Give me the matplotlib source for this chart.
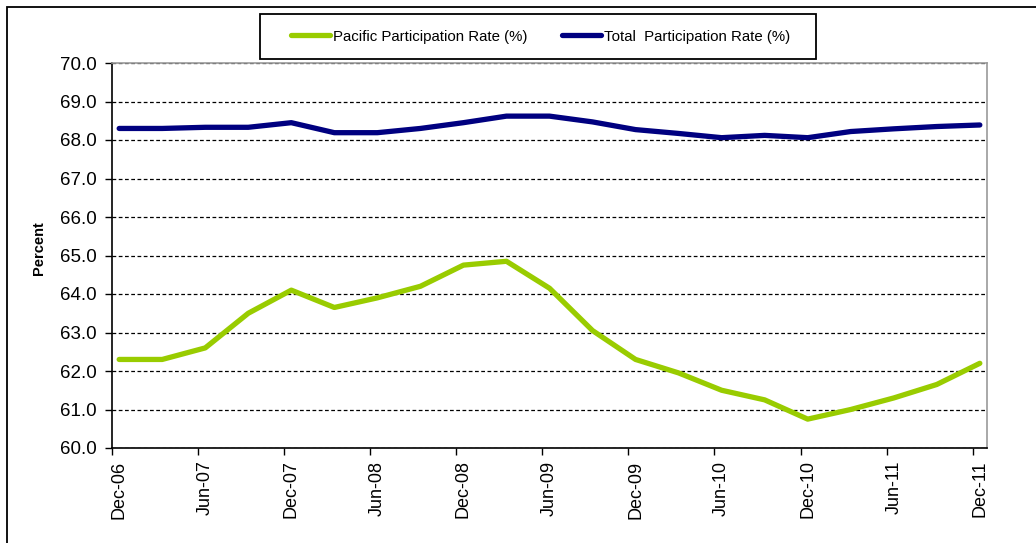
import matplotlib
matplotlib.use("Agg")
from matplotlib import pyplot as plt
from matplotlib.patches import Rectangle
import numpy as np

plt.rcParams['font.family'] = ['Liberation Sans', 'DejaVu Sans']

# quarterly values, Dec-06 .. Dec-11
pacific = [62.3, 62.3, 62.6, 63.5, 64.1, 63.65, 63.9, 64.2, 64.75, 64.85, 64.15,
           63.05, 62.3, 61.95, 61.5, 61.25, 60.75, 61.0, 61.3, 61.65, 62.2]
total = [68.3, 68.3, 68.33, 68.33, 68.45, 68.19, 68.19, 68.3, 68.45, 68.62, 68.62,
         68.47, 68.27, 68.17, 68.06, 68.12, 68.06, 68.22, 68.29, 68.35, 68.39]
tick_labels = ['Dec-06', 'Jun-07', 'Dec-07', 'Jun-08', 'Dec-08', 'Jun-09',
               'Dec-09', 'Jun-10', 'Dec-10', 'Jun-11', 'Dec-11']

months = np.arange(0, 3 * len(pacific), 3)   # month index of each quarter
tick_pos = np.arange(0, 6 * len(tick_labels), 6)

fig = plt.figure(figsize=(10.36, 5.43), dpi=100)
ax = fig.add_axes([112 / 1036, 1 - 448 / 543, 875 / 1036, 385 / 543])

l1, = ax.plot(months, pacific, color='#99CC00', lw=3.8, solid_capstyle='round',
              label='Pacific Participation Rate (%)')
l2, = ax.plot(months, total, color='#000080', lw=3.8, solid_capstyle='round',
              label='Total  Participation Rate (%)')

ax.set_xlim(-0.5, 60.5)
ax.set_ylim(60, 70)
ax.set_yticks(np.arange(60, 70.5, 1))
ax.set_yticklabels(['%.1f' % v for v in np.arange(60, 70.5, 1)], fontsize=13.5)
ax.set_xticks(tick_pos)
ax.set_xticklabels(tick_labels, rotation=90, fontsize=13)
ax.set_xticks(np.arange(-0.5, 61, 6), minor=True)
ax.tick_params(axis='x', which='major', length=0, pad=9)
ax.tick_params(axis='x', which='minor', length=5, width=1, direction='out')
ax.tick_params(axis='y', length=5, width=1, direction='out', pad=6)

ax.yaxis.grid(True, color='black', linestyle=(0, (3, 2)), lw=0.9)
ax.set_axisbelow(True)
for s in ['left', 'bottom']:
    ax.spines[s].set_color('black')
    ax.spines[s].set_linewidth(1.2)
for s in ['top', 'right']:
    ax.spines[s].set_color('#999999')
    ax.spines[s].set_linewidth(1.2)

ax.set_ylabel('Percent', fontsize=10.5, fontweight='bold')
ax.yaxis.set_label_coords(-0.075, 0.52)

# legend with its own box
fig.legend(handles=[l1, l2], loc='center', bbox_to_anchor=(541 / 1036, 1 - 36.5 / 543),
           frameon=False, ncol=2, fontsize=10.8, handlelength=2.6,
           handletextpad=0.2, columnspacing=2.3)
fig.patches.append(Rectangle((260 / 1036, 1 - 59 / 543), 556 / 1036, 45 / 543,
                             transform=fig.transFigure, fill=False,
                             edgecolor='black', lw=1.3))
# outer frame
fig.patches.append(Rectangle((7 / 1036, -0.1), 1.2, 1 - 7 / 543 + 0.1,
                             transform=fig.transFigure, fill=False,
                             edgecolor='black', lw=1.3))

fig.savefig('out.png', dpi=100)
